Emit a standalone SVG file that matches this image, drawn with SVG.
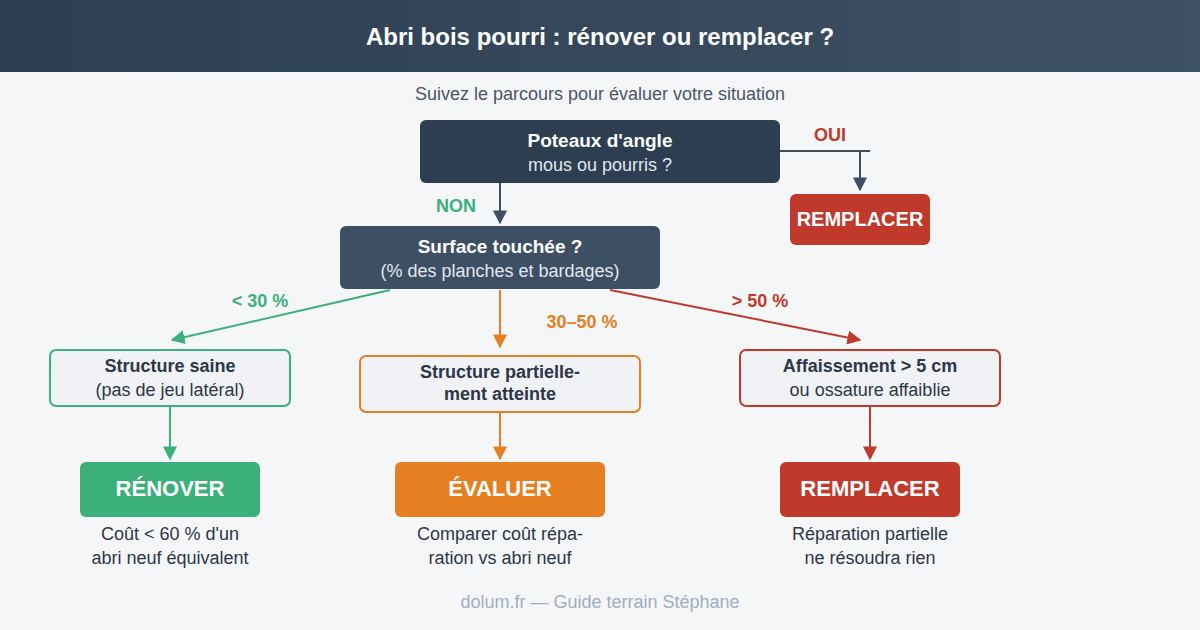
<svg xmlns="http://www.w3.org/2000/svg" width="1200" height="630" viewBox="0 0 1200 630">
<defs>
<linearGradient id="hd" x1="0" y1="0" x2="1" y2="0"><stop offset="0" stop-color="#2c3e50"/><stop offset="1" stop-color="#3f5166"/></linearGradient>
<marker id="ad" viewBox="0 0 10 10" refX="9" refY="5" markerWidth="7" markerHeight="7" orient="auto"><path d="M0,0L10,5L0,10z" fill="#3d4f63"/></marker>
<marker id="ag" viewBox="0 0 10 10" refX="9" refY="5" markerWidth="7" markerHeight="7" orient="auto"><path d="M0,0L10,5L0,10z" fill="#3cb07a"/></marker>
<marker id="ao" viewBox="0 0 10 10" refX="9" refY="5" markerWidth="7" markerHeight="7" orient="auto"><path d="M0,0L10,5L0,10z" fill="#e67e22"/></marker>
<marker id="ar" viewBox="0 0 10 10" refX="9" refY="5" markerWidth="7" markerHeight="7" orient="auto"><path d="M0,0L10,5L0,10z" fill="#c0392b"/></marker>
</defs>
<style>
text{font-family:"Liberation Sans",Arial,sans-serif;text-anchor:middle}
.b{font-weight:bold}
.w{fill:#fff}
.l{fill:#e2e8f0}
.d{fill:#2d3748}
.lb{font-size:18px;font-weight:bold}
.box{fill:#f0f2f5;stroke-width:2}
</style>
<rect width="1200" height="630" fill="#f4f6f8"/>
<rect width="1200" height="72" fill="url(#hd)"/>
<text x="600" y="45" class="b w" font-size="24">Abri bois pourri : rénover ou remplacer ?</text>
<text x="600" y="100" font-size="18" fill="#4a5568">Suivez le parcours pour évaluer votre situation</text>
<g id="connectors" fill="none" stroke-width="2">
<path d="M780,151H870M860,151V190" stroke="#3d4f63" marker-end="url(#ad)"/>
<path d="M500,183V223" stroke="#3d4f63" marker-end="url(#ad)"/>
<path d="M390,290L172,340" stroke="#3cb07a" marker-end="url(#ag)"/>
<path d="M500,290V347" stroke="#e67e22" marker-end="url(#ao)"/>
<path d="M610,290L860,340" stroke="#c0392b" marker-end="url(#ar)"/>
<path d="M170,406V459" stroke="#3cb07a" marker-end="url(#ag)"/>
<path d="M500,412V459" stroke="#e67e22" marker-end="url(#ao)"/>
<path d="M870,406V459" stroke="#c0392b" marker-end="url(#ar)"/>
<text x="830" y="141" class="lb" fill="#c0392b" stroke="none">OUI</text>
<text x="456" y="212" class="lb" fill="#3cb07a" stroke="none">NON</text>
<text x="260" y="307" class="lb" fill="#3cb07a" stroke="none">&lt; 30 %</text>
<text x="582" y="328" class="lb" fill="#e67e22" stroke="none">30–50 %</text>
<text x="760" y="307" class="lb" fill="#c0392b" stroke="none">&gt; 50 %</text>
</g>
<g id="n1"><rect x="420" y="120" width="360" height="63" rx="6" fill="#2c3e50"/>
<text x="600" y="147" class="b w" font-size="19">Poteaux d'angle</text><text x="600" y="171" class="l" font-size="18">mous ou pourris ?</text></g>
<g id="r1"><rect x="790" y="194" width="140" height="51" rx="6" fill="#c0392b"/><text x="860" y="226" class="b w" font-size="20">REMPLACER</text></g>
<g id="n2"><rect x="340" y="226" width="320" height="63" rx="6" fill="#3d4f63"/>
<text x="500" y="253" class="b w" font-size="19">Surface touchée ?</text><text x="500" y="277" class="l" font-size="18">(% des planches et bardages)</text></g>
<g id="a"><rect x="50" y="350" width="240" height="56" rx="6" class="box" stroke="#3cb07a"/>
<text x="170" y="372" class="b d" font-size="18">Structure saine</text><text x="170" y="396" class="d" font-size="18">(pas de jeu latéral)</text></g>
<g id="bb"><rect x="360" y="356" width="280" height="56" rx="6" class="box" stroke="#e67e22"/>
<text x="500" y="378" class="b d" font-size="18">Structure partielle-</text><text x="500" y="400" class="b d" font-size="18">ment atteinte</text></g>
<g id="c"><rect x="740" y="350" width="260" height="56" rx="6" class="box" stroke="#c0392b"/>
<text x="870" y="372" class="b d" font-size="18">Affaissement &gt; 5 cm</text><text x="870" y="396" class="d" font-size="18">ou ossature affaiblie</text></g>
<g id="o1"><rect x="80" y="462" width="180" height="55" rx="6" fill="#3cb07a"/><text x="170" y="496" class="b w" font-size="22">RÉNOVER</text>
<text x="170" y="540" class="d" font-size="18">Coût &lt; 60 % d'un</text><text x="170" y="564" class="d" font-size="18">abri neuf équivalent</text></g>
<g id="o2"><rect x="395" y="462" width="210" height="55" rx="6" fill="#e67e22"/><text x="500" y="496" class="b w" font-size="22">ÉVALUER</text>
<text x="500" y="540" class="d" font-size="18">Comparer coût répa-</text><text x="500" y="564" class="d" font-size="18">ration vs abri neuf</text></g>
<g id="o3"><rect x="780" y="462" width="180" height="55" rx="6" fill="#c0392b"/><text x="870" y="496" class="b w" font-size="22">REMPLACER</text>
<text x="870" y="540" class="d" font-size="18">Réparation partielle</text><text x="870" y="564" class="d" font-size="18">ne résoudra rien</text></g>
<text x="600" y="608" font-size="18" fill="#a0aec0">dolum.fr — Guide terrain Stéphane</text>
</svg>
